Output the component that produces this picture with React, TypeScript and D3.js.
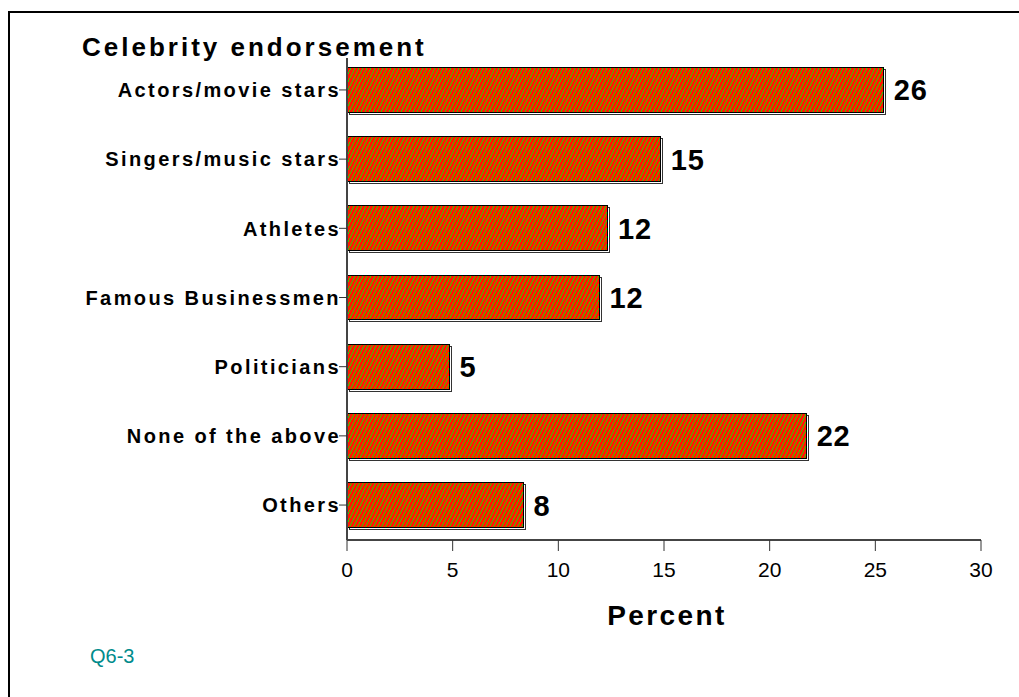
import React from "react";
import * as d3 from "d3";

const categories = [
  "Actors/movie stars",
  "Singers/music stars",
  "Athletes",
  "Famous Businessmen",
  "Politicians",
  "None of the above",
  "Others",
];
const values = [25.4, 14.85, 12.35, 11.95, 4.85, 21.75, 8.35];
const valueLabels = ["26", "15", "12", "12", "5", "22", "8"];
const xTicks = [0, 5, 10, 15, 20, 25, 30];

const W = 1019;
const H = 697;
const left = 347;
const right = 981;
const top = 58;
const bottom = 540;

export default function App() {
  const x = d3.scaleLinear().domain([0, 30]).range([left, right]);
  const y = d3
    .scaleBand<string>()
    .domain(categories)
    .range([55, bottom])
    .paddingInner(0.35)
    .paddingOuter(0.18);
  const font = "Arial, 'Liberation Sans', sans-serif";
  const bw = y.bandwidth();

  const tiles: JSX.Element[] = [];
  for (let i = 0; i < 4; i++) {
    for (let j = 0; j < 8; j++) {
      if ([0, 1].includes((j + 2 * i) % 8)) {
        tiles.push(<rect key={`${i}-${j}`} x={i} y={j} width={1} height={1} fill="#33cc00" />);
      }
    }
  }

  return (
    <svg
      width={W}
      height={H}
      style={{ position: "absolute", left: 0, top: 0 }}
      fontFamily={font}
    >
      <defs>
        <pattern id="hatch" patternUnits="userSpaceOnUse" width={4} height={8}>
          <rect width={4} height={8} fill="#ff1a00" />
          <g shapeRendering="crispEdges">{tiles}</g>
        </pattern>
      </defs>
      <rect x={0} y={0} width={W} height={H} fill="#fff" />
      <rect x={9} y={12} width={W + 20} height={H + 20} fill="none" stroke="#000" strokeWidth={2} />

      <text x={82} y={56} fontSize={26} fontWeight="bold" letterSpacing={3}>
        Celebrity endorsement
      </text>

      {/* bars */}
      {categories.map((c, i) => {
        const y0 = y(c)!;
        const x1 = x(values[i]);
        return (
          <g key={c}>
            <rect
              x={x(0) + 2}
              y={y0 + 2}
              width={x1 - x(0)}
              height={bw}
              fill="#fff"
              stroke="#333"
              strokeWidth={1}
              shapeRendering="crispEdges"
            />
            <rect
              x={x(0)}
              y={y0}
              width={x1 - x(0)}
              height={bw}
              fill="url(#hatch)"
              stroke="#000"
              strokeWidth={1}
              shapeRendering="crispEdges"
            />
            <text
              x={x1 + 10}
              y={y0 + bw / 2}
              dy="0.36em"
              fontSize={29}
              fontWeight="bold"
              letterSpacing={0.8}
            >
              {valueLabels[i]}
            </text>
          </g>
        );
      })}

      {/* y axis */}
      <line x1={left} x2={left} y1={top} y2={bottom} stroke="#444" strokeWidth={2} />
      {categories.map((c) => {
        const cy = y(c)! + bw / 2;
        return (
          <g key={"t" + c}>
            <line x1={left - 8} x2={left} y1={cy} y2={cy} stroke="#333" strokeWidth={1} />
            <text
              x={left - 6}
              y={cy}
              dy="0.36em"
              textAnchor="end"
              fontSize={20}
              fontWeight="bold"
              letterSpacing={2.4}
            >
              {c}
            </text>
          </g>
        );
      })}

      {/* x axis */}
      <line x1={left} x2={right} y1={bottom} y2={bottom} stroke="#444" strokeWidth={2} />
      {xTicks.map((t) => (
        <g key={"x" + t}>
          <line x1={x(t)} x2={x(t)} y1={bottom} y2={bottom + 11} stroke="#333" strokeWidth={1} />
          <text x={x(t)} y={577} textAnchor="middle" fontSize={21}>
            {t}
          </text>
        </g>
      ))}
      <text x={667} y={625} textAnchor="middle" fontSize={28} fontWeight="bold" letterSpacing={2.4}>
        Percent
      </text>

      <text x={90} y={663} fontSize={20} fill="#008b8b">
        Q6-3
      </text>
    </svg>
  );
}
